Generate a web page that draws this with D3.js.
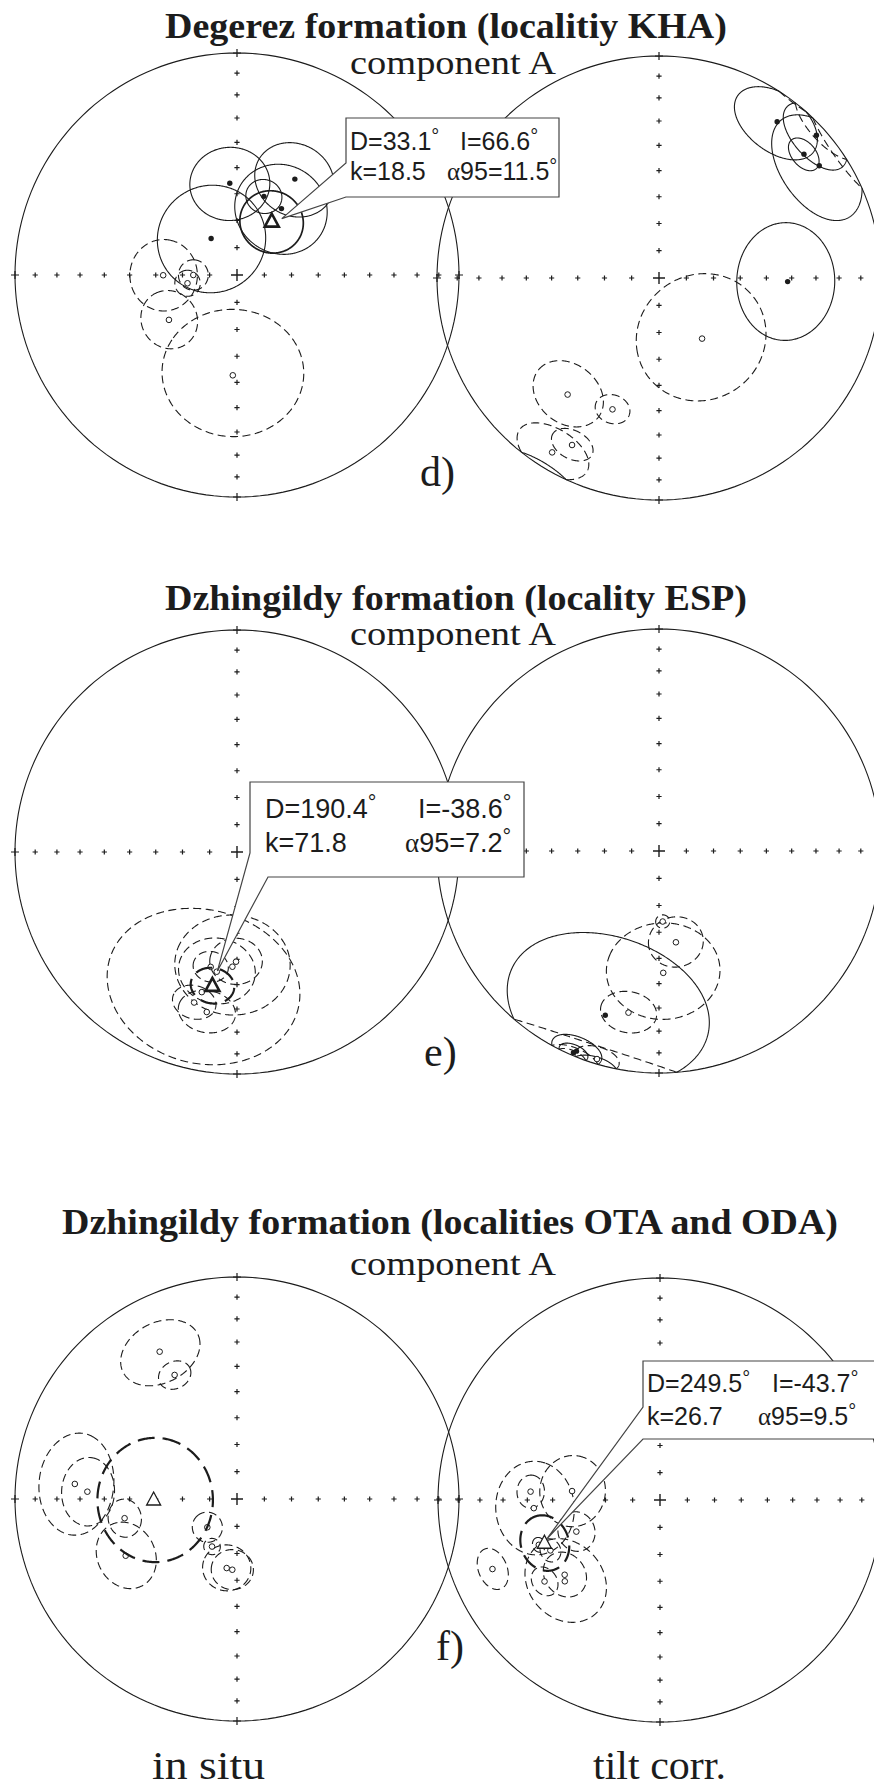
<!DOCTYPE html>
<html>
<head>
<meta charset="utf-8">
<script src="https://cdn.jsdelivr.net/npm/d3@7"></script>
<style>
  body { margin: 0; background: #fff; }
  svg { display: block; }
</style>
</head>
<body>
<script>
// site mean directions read off the nets: [declination, inclination, a95]
// negative inclination = upper hemisphere (open symbol, dashed cone)
const dInSitu = [
  [355.5, 55.9, 14], [31.1, 48.2, 14], [324.7, 73.6, 19.8], [18.9, 59.3, 6.4], [33.8, 60.5, 16.7],
  [269.8, -62.8, 12.7], [270.0, -74.0, 5.5], [260.5, -71.6, 4.7], [236.6, -59.9, 10.5], [182.4, -52.7, 24.7]
];
const dTilt = [
  [37.1, 12.8, 13.5], [47.8, 4.8, 11], [49.5, 15.2, 5.5], [55.0, 12.9, 17], [91.6, 41.6, 19.7],
  [144.6, -62.6, 23.6], [218.1, -33.7, 12.3], [199.5, -37.3, 5.8], [207.5, -16.3, 6.5], [211.5, -8.7, 11]
];
const eInSitu = [
  [192.9, -45.9, 6], [189.6, -44.5, 13], [182.3, -47.1, 19.7], [180.5, -49.1, 9],
  [194.1, -35.2, 32], [195.9, -30.2, 7], [190.7, -27.5, 9]
];
const eTilt = [
  [177.0, -64.0, 2.5], [169.5, -55.6, 9.6], [178.0, -44.3, 19.2], [190.7, -26.8, 8.8],
  [196.6, -2.5, 6], [198.1, 23.2, 32], [202.4, 2.8, 7], [203.0, 1.5, 4]
];
const fInSitu = [
  [332.3, -26.0, 13], [333.3, -37.5, 5.5], [275.3, -27.5, 16], [272.8, -33.0, 11], [260.3, -47.4, 6.5],
  [243.0, -43.1, 11.5], [226.4, -75.0, 5.5], [207.7, -70.3, 3], [188.5, -64.3, 8.6], [183.8, -63.9, 7.5]
];
const fTilt = [
  [273.7, -41.2, 5.5], [266.3, -42.5, 15.7], [275.8, -57.3, 12.5], [249.3, -56.9, 7], [249.7, -41.4, 2.5],
  [245.3, -44.8, 4], [247.6, -19.5, 6.4], [231.9, -44.6, 8], [229.5, -43.0, 15], [234.8, -36.5, 5]
];

// formation means (labelled) and the unlabelled in situ mean of panel f
const meanD = [33.1, 190.4, 249.5];
const meanI = [66.6, -38.6, -43.7];
const meanK = [18.5, 71.8, 26.7];
const meanA95 = [11.5, 7.2, 9.5];
const meanNet = ["left", "left", "right"];
const fInSituMean = [269.3, -59.2, 22];

const titles = [
  "Degerez formation (localitiy KHA)",
  "Dzhingildy formation (locality ESP)",
  "Dzhingildy formation (localities OTA and ODA)"
];
const subtitle = "component A";
const panelLabels = ["d)", "e)", "f)"];
const netLabels = ["in situ", "tilt corr."];

const W = 874, H = 1789, R = 222;
const ink = "#1c1c1c";
const serif = "'Liberation Serif', 'Times New Roman', serif";
const sans = "'Liberation Sans', Arial, sans-serif";

const svg = d3.select("body").append("svg")
  .attr("width", W).attr("height", H)
  .style("background", "#fff");

const line = d3.line();

// lower hemisphere equal-area (Schmidt) net, north up
function makeProj(c) {
  return d3.geoAzimuthalEqualArea()
    .rotate([0, -90])
    .scale(R / Math.SQRT2)
    .translate(c);
}
const at = (proj, D, I) => proj([180 - D, Math.abs(I)]);

// split a confidence cone into lower / upper hemisphere runs
function coneRuns(D, I, a) {
  const ring = d3.geoCircle().center([180 - D, I]).radius(a).precision(1)()
    .coordinates[0].slice(0, -1);
  const n = ring.length;
  const up = p => p[1] < 0;
  let s = -1;
  for (let i = 0; i < n; i++) {
    if (up(ring[i]) !== up(ring[(i + n - 1) % n])) { s = i; break; }
  }
  if (s < 0) return [{ up: up(ring[0]), pts: ring.concat([ring[0]]) }];
  const runs = [];
  let cur = { up: up(ring[s]), pts: [ring[s]] };
  for (let k = 1; k <= n; k++) {
    const p = ring[(s + k) % n];
    if (up(p) === cur.up) { cur.pts.push(p); continue; }
    const q = cur.pts[cur.pts.length - 1];
    let lon = p[0];
    if (lon - q[0] > 180) lon -= 360; else if (q[0] - lon > 180) lon += 360;
    const t = q[1] / (q[1] - p[1]);
    const m = [q[0] + t * (lon - q[0]), 0];
    cur.pts.push(m);
    runs.push(cur);
    if (k === n) { runs[0].pts.unshift(m); break; }
    cur = { up: up(p), pts: [m, p] };
  }
  return runs;
}

function drawCone(g, proj, D, I, a, w, dash) {
  coneRuns(D, I, a).forEach(r => {
    g.append("path")
      .attr("d", line(r.pts.map(p => proj([p[0], Math.abs(p[1])]))))
      .attr("fill", "none")
      .attr("stroke", ink)
      .attr("stroke-width", w)
      .attr("stroke-dasharray", r.up ? dash : null);
  });
}

function plus(g, x, y, s, w) {
  g.append("path")
    .attr("d", `M${x - s},${y}H${x + s}M${x},${y - s}V${y + s}`)
    .attr("stroke", ink).attr("stroke-width", w);
}

function drawNet(g, proj) {
  const rim = d3.range(0, 361, 2).map(l => proj([l, 0]));
  g.append("path").attr("d", line(rim))
    .attr("fill", "none").attr("stroke", ink).attr("stroke-width", 1.1);
  [0, 90, 180, 270].forEach(D => {
    d3.range(0, 90, 10).forEach(I => {
      const [x, y] = at(proj, D, I);
      plus(g, x, y, I === 0 ? 4 : 2.6, 1.2);
    });
  });
  const [cx, cy] = at(proj, 0, 90);
  plus(g, cx, cy, 6, 1.4);
}

function drawSites(g, proj, sites) {
  sites.forEach(([D, I, a]) => drawCone(g, proj, D, I, a, 1.1, "8,4.5"));
  sites.forEach(([D, I]) => {
    const [x, y] = at(proj, D, I);
    g.append("circle").attr("cx", x).attr("cy", y)
      .attr("r", I < 0 ? 2.8 : 2.7)
      .attr("fill", I < 0 ? "#fff" : ink)
      .attr("stroke", ink).attr("stroke-width", I < 0 ? 1 : 0);
  });
}

function drawMean(g, proj, D, I, a, w, cw) {
  drawCone(g, proj, D, I, a, cw, "17,8");
  const [x, y] = at(proj, D, I);
  g.append("path")
    .attr("d", `M${x},${y - 8}L${x - 7},${y + 5}L${x + 7},${y + 5}Z`)
    .attr("fill", "#fff").attr("stroke", ink).attr("stroke-width", w)
    .attr("stroke-linejoin", "miter");
}

const panels = [
  { ty: 38, sy: 74, tx: [165, 562], left: [237, 275], right: [659, 278], lab: [420, 486],
    sites: [dInSitu, dTilt], tri: 2.6, cw: 1.7,
    box: { r: [346, 118, 559, 197], b0: [346, 197], b1: [346, 163], tip: [10, -3], fs: 25,
           y: [150, 180], c1: [350, 460], c2: [350, 447] } },
  { ty: 610, sy: 645, tx: [165, 582], left: [237, 852], right: [659, 851], lab: [424, 1066],
    sites: [eInSitu, eTilt], tri: 2.6, cw: 2.2,
    box: { r: [250, 782, 524, 877], b0: [268, 877], b1: [250, 853], tip: [5, -15], fs: 27,
           y: [818, 852], c1: [265, 418], c2: [265, 405] } },
  { ty: 1234, sy: 1275, tx: [62, 776], left: [237, 1499], right: [660, 1500], lab: [436, 1660],
    sites: [fInSitu, fTilt], tri: 1.3, cw: 2.2,
    box: { r: [643, 1361, 890, 1439], b0: [643, 1439], b1: [643, 1407], tip: [3, -5], fs: 25,
           y: [1392, 1425], c1: [647, 772], c2: [647, 758] } }
];

function deg(t, fs) {
  t.append("tspan").text("°").attr("font-size", fs * 0.8).attr("dy", -fs * 0.3);
}

panels.forEach((p, i) => {
  const g = svg.append("g");
  g.append("text").attr("x", p.tx[0]).attr("y", p.ty)
    .attr("font-family", serif).attr("font-weight", "bold").attr("font-size", 35)
    .attr("textLength", p.tx[1]).attr("lengthAdjust", "spacingAndGlyphs")
    .attr("fill", ink).text(titles[i]);
  g.append("text").attr("x", 350).attr("y", p.sy)
    .attr("font-family", serif).attr("font-size", 34)
    .attr("textLength", 206).attr("lengthAdjust", "spacingAndGlyphs")
    .attr("fill", ink).text(subtitle);

  const projL = makeProj(p.left), projR = makeProj(p.right);
  drawNet(g, projL);
  drawNet(g, projR);
  drawSites(g, projL, p.sites[0]);
  drawSites(g, projR, p.sites[1]);

  const mProj = meanNet[i] === "left" ? projL : projR;
  if (i === 2) drawMean(g, projL, fInSituMean[0], fInSituMean[1], fInSituMean[2], p.tri, p.cw);
  drawMean(g, mProj, meanD[i], meanI[i], meanA95[i], p.tri, p.cw);

  g.append("text").attr("x", p.lab[0]).attr("y", p.lab[1])
    .attr("font-family", serif).attr("font-size", 42).attr("fill", ink)
    .text(panelLabels[i]);

  // callout box
  const b = p.box;
  const [mx, my] = at(mProj, meanD[i], meanI[i]);
  const tip = [mx + b.tip[0], my + b.tip[1]];
  const [x0, y0, x1, y1] = b.r;
  g.append("path")
    .attr("d", `M${x0},${y0}L${x1},${y0}L${x1},${y1}L${b.b0[0]},${b.b0[1]}L${tip[0]},${tip[1]}L${b.b1[0]},${b.b1[1]}Z`)
    .attr("fill", "#fff").attr("stroke", "#444").attr("stroke-width", 1.2);
  const txt = (x, y) => g.append("text").attr("x", x).attr("y", y)
    .attr("font-family", sans).attr("font-size", b.fs).attr("fill", ink);
  let t = txt(b.c1[0], b.y[0]); t.append("tspan").text("D=" + meanD[i].toFixed(1)); deg(t, b.fs);
  t = txt(b.c1[1], b.y[0]); t.append("tspan").text("I=" + meanI[i].toFixed(1)); deg(t, b.fs);
  txt(b.c2[0], b.y[1]).text("k=" + meanK[i].toFixed(1));
  t = txt(b.c2[1], b.y[1]);
  t.append("tspan").text("α").attr("font-family", serif);
  t.append("tspan").text("95=" + meanA95[i].toFixed(1));
  deg(t, b.fs);
});

svg.append("text").attr("x", 152).attr("y", 1779)
  .attr("font-family", serif).attr("font-size", 40)
  .attr("textLength", 113).attr("lengthAdjust", "spacingAndGlyphs")
  .attr("fill", ink).text(netLabels[0]);
svg.append("text").attr("x", 593).attr("y", 1779)
  .attr("font-family", serif).attr("font-size", 40)
  .attr("textLength", 133).attr("lengthAdjust", "spacingAndGlyphs")
  .attr("fill", ink).text(netLabels[1]);
</script>
</body>
</html>
